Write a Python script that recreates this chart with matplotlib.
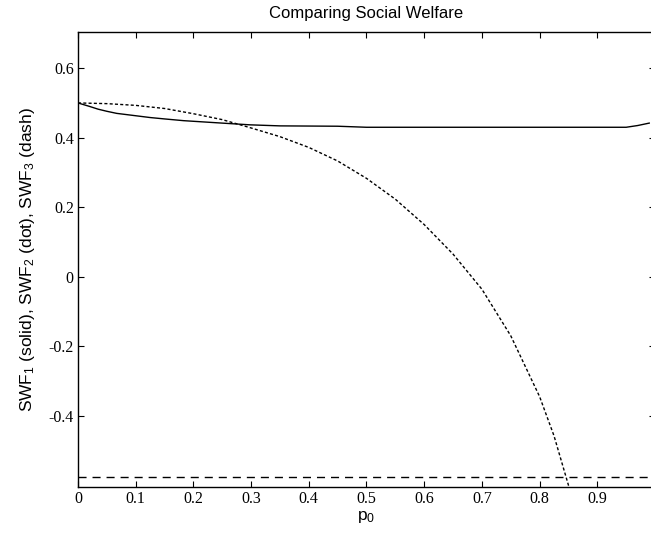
from matplotlib import pyplot as plt

# SWF1 (solid)
p_solid = [0, 0.02, 0.035, 0.05, 0.067, 0.096, 0.125, 0.15, 0.183, 0.24, 0.298, 0.35,
           0.45, 0.5, 0.6, 0.7, 0.8, 0.9, 0.95, 0.97, 0.99]
swf1 = [0.500, 0.490, 0.482, 0.476, 0.470, 0.464, 0.458, 0.454, 0.449, 0.443, 0.437, 0.434,
        0.433, 0.430, 0.430, 0.430, 0.430, 0.430, 0.430, 0.435, 0.442]

# SWF2 (dot)
p_dot = [0, 0.05, 0.1, 0.15, 0.2, 0.25, 0.3, 0.35, 0.4, 0.45, 0.5, 0.55, 0.6, 0.65,
         0.7, 0.75, 0.8, 0.825, 0.85, 0.86]
swf2 = [0.500, 0.498, 0.493, 0.484, 0.469, 0.452, 0.428, 0.403, 0.372, 0.333, 0.283, 0.223,
        0.150, 0.065, -0.036, -0.170, -0.345, -0.458, -0.600, -0.650]

# SWF3 (dash)
p_dash = [0, 0.99]
swf3 = [-0.576, -0.576]

x_ticks = [0, 0.1, 0.2, 0.3, 0.4, 0.5, 0.6, 0.7, 0.8, 0.9]
y_ticks = [-0.4, -0.2, 0, 0.2, 0.4, 0.6]


def main():
    plt.rcParams['mathtext.fontset'] = 'custom'
    plt.rcParams['mathtext.rm'] = 'Liberation Sans'
    plt.rcParams['mathtext.it'] = 'Liberation Sans'
    plt.rcParams['mathtext.default'] = 'rm'

    fig = plt.figure(figsize=(6.51, 5.41), dpi=100)
    # right side of the box falls just outside the picture, as in the original
    ax = fig.add_axes([78 / 651, 1 - 487.3 / 541, 577 / 651, (487.3 - 31.7) / 541])

    ax.plot(p_solid, swf1, c='black', lw=1.0, linestyle='-')
    ax.plot(p_dot, swf2, c='black', lw=1.0, linestyle=(0, (2.2, 1.6)))
    ax.plot(p_dash, swf3, c='black', lw=1.0, linestyle=(0, (5.8, 4.3)))

    ax.set_xlim(0, 1.0)
    ax.set_ylim(-0.606, 0.705)
    ax.set_xticks(x_ticks)
    ax.set_xticklabels(['0' if v == 0 else f'{v:g}' for v in x_ticks])
    ax.set_yticks(y_ticks)
    ax.set_yticklabels(['0' if v == 0 else f'{v:g}' for v in y_ticks])

    ax.tick_params(direction='in', top=True, right=True, length=4.3, width=0.8,
                   labelsize=11.5, pad=3)
    for lbl in ax.get_xticklabels() + ax.get_yticklabels():
        lbl.set_family('Liberation Serif')
    for sp in ax.spines.values():
        sp.set_linewidth(1.0)

    ax.set_title('Comparing Social Welfare', fontsize=12, family='Liberation Sans', pad=10)
    ax.set_xlabel('p$_0$', fontsize=12.5, family='Liberation Sans', labelpad=1)
    ax.set_ylabel('SWF$_1$ (solid), SWF$_2$ (dot), SWF$_3$ (dash)', fontsize=12.5,
                  family='Liberation Sans', labelpad=8)

    fig.savefig('out.png', dpi=100)


if __name__ == '__main__':
    main()
